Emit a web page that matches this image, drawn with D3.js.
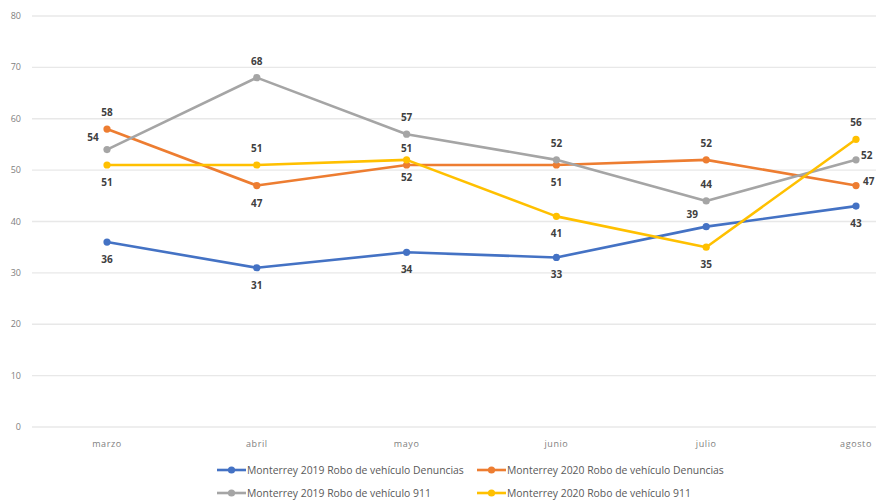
<!DOCTYPE html>
<html><head><meta charset="utf-8">
<script src="https://cdn.jsdelivr.net/npm/d3@7"></script>
<style>body{margin:0;background:#fff;font-family:"Open Sans","Liberation Sans",Arial,sans-serif;overflow:hidden;}</style>
</head><body><svg id="c" width="876" height="504" style="font-family:'Open Sans','Liberation Sans',Arial,sans-serif"></svg>
<script>
const categories = ["marzo","abril","mayo","junio","julio","agosto"];
const seriesNames = ["Monterrey 2019 Robo de vehículo Denuncias","Monterrey 2020 Robo de vehículo Denuncias","Monterrey 2019 Robo de vehículo 911","Monterrey 2020 Robo de vehículo 911"];
const blue2019Denuncias = [36,31,34,33,39,43];
const orange2020Denuncias = [58,47,51,51,52,47];
const gray2019_911 = [54,68,57,52,44,52];
const yellow2020_911 = [51,51,52,41,35,56];
const yTicks = [0,10,20,30,40,50,60,70,80];

const colors = ["#4472C4","#ED7D31","#A5A5A5","#FFC000"];
const placements = [
  ["b","b","b","b","al","b"],
  ["a","b","a","b","a","r"],
  ["al","a","a","a","a","r"],
  ["b","a","b","b","b","a"]
];
const rightOffsets = [0,7,5,0];
const seriesVals = [blue2019Denuncias, orange2020Denuncias, gray2019_911, yellow2020_911];

const svg = d3.select("#c");
const x = d3.scalePoint().domain(categories).range([107, 856]);
const y = d3.scaleLinear().domain([0,80]).range([427, 16]);

svg.append("g").selectAll("line").data(yTicks).join("line")
  .attr("x1",32).attr("x2",876).attr("y1",d=>y(d)).attr("y2",d=>y(d))
  .attr("stroke","#e8e8e8").attr("stroke-width",1.3);

svg.append("g").selectAll("text").data(yTicks).join("text")
  .attr("x",21).attr("y",d=>y(d)+3).attr("text-anchor","end")
  .attr("font-size",9).attr("fill","#808080").text(d=>d);

svg.append("g").selectAll("text").data(categories).join("text")
  .attr("x",d=>x(d)).attr("y",447).attr("text-anchor","middle")
  .attr("font-size",9).attr("letter-spacing",0.6).attr("fill","#808080").text(d=>d);

const line = d3.line().x((d,i)=>x(categories[i])).y(d=>y(d));
seriesVals.forEach((vals,si)=>{
  const g = svg.append("g");
  g.append("path").datum(vals).attr("d",line).attr("fill","none")
    .attr("stroke",colors[si]).attr("stroke-width",2.6).attr("stroke-linejoin","round");
  g.selectAll("circle").data(vals).join("circle")
    .attr("cx",(d,i)=>x(categories[i])).attr("cy",d=>y(d)).attr("r",3.6)
    .attr("fill",colors[si]);
});

seriesVals.forEach((vals,si)=>{
  svg.append("g").selectAll("text").data(vals).join("text")
    .attr("x",(d,i)=>{
      const p=placements[si][i]; const cx=x(categories[i]);
      if(p==="al") return cx-14; if(p==="r") return cx+rightOffsets[si]; return cx;})
    .attr("y",(d,i)=>{
      const p=placements[si][i]; const cy=y(d);
      if(p==="a") return cy-13; if(p==="b") return cy+21; if(p==="al") return cy-9; return cy-1;})
    .attr("text-anchor",(d,i)=>{const p=placements[si][i]; return p==="r"?"start":"middle";})
    .attr("font-size",10).attr("font-weight","bold").attr("fill","#404040")
    .text(d=>d);
});

const legendPos = [[217,470],[477,470],[217,493],[477,493]];
seriesNames.forEach((n,i)=>{
  const [lx,ly]=legendPos[i];
  const g=svg.append("g");
  g.append("line").attr("x1",lx).attr("x2",lx+29).attr("y1",ly).attr("y2",ly)
    .attr("stroke",colors[i]).attr("stroke-width",2.6);
  g.append("circle").attr("cx",lx+14.5).attr("cy",ly).attr("r",3.6).attr("fill",colors[i]);
  g.append("text").attr("x",lx+30).attr("y",ly+3.5).attr("font-size",10.4)
    .attr("fill","#595959").text(n);
});
</script></body></html>
